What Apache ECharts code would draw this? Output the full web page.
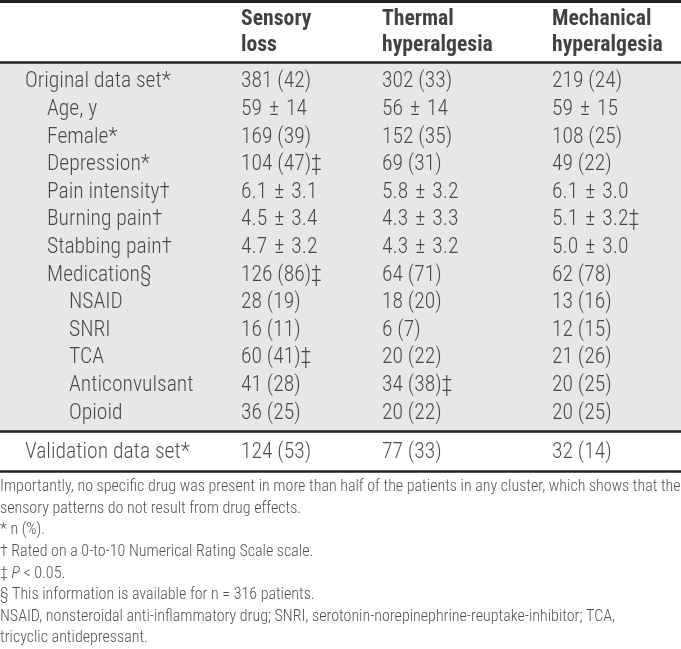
<!DOCTYPE html>
<html>
<head>
<meta charset="utf-8">
<script src="https://cdn.jsdelivr.net/npm/echarts@6/dist/echarts.min.js"></script>
<style>html,body{margin:0;padding:0;background:#fff}#c{width:681px;height:649px}</style>
</head>
<body>
<div id="c"></div>
<script>
// ---------- data ----------
const headerLines = [['Sensory', 'loss'], ['Thermal', 'hyperalgesia'], ['Mechanical', 'hyperalgesia']];
const rowLabels = ['Original data set*', 'Age, y', 'Female*', 'Depression*', 'Pain intensity†', 'Burning pain†',
  'Stabbing pain†', 'Medication§', 'NSAID', 'SNRI', 'TCA', 'Anticonvulsant', 'Opioid'];
const rowLevels = [0, 1, 1, 1, 1, 1, 1, 1, 2, 2, 2, 2, 2];
const sensoryLoss = ['381 (42)', '59 ± 14', '169 (39)', '104 (47)‡', '6.1 ± 3.1', '4.5 ± 3.4', '4.7 ± 3.2',
  '126 (86)‡', '28 (19)', '16 (11)', '60 (41)‡', '41 (28)', '36 (25)'];
const thermalHyperalgesia = ['302 (33)', '56 ± 14', '152 (35)', '69 (31)', '5.8 ± 3.2', '4.3 ± 3.3', '4.3 ± 3.2',
  '64 (71)', '18 (20)', '6 (7)', '20 (22)', '34 (38)‡', '20 (22)'];
const mechanicalHyperalgesia = ['219 (24)', '59 ± 15', '108 (25)', '49 (22)', '6.1 ± 3.0', '5.1 ± 3.2‡', '5.0 ± 3.0',
  '62 (78)', '13 (16)', '12 (15)', '21 (26)', '20 (25)', '20 (25)'];
const validationRow = ['Validation data set*', '124 (53)', '77 (33)', '32 (14)'];
const notes = [
  'Importantly, no specific drug was present in more than half of the patients in any cluster, which shows that the',
  'sensory patterns do not result from drug effects.',
  '* n (%).',
  '† Rated on a 0-to-10 Numerical Rating Scale scale.',
  '‡ {i|P} < 0.05.',
  '§ This information is available for n = 316 patients.',
  'NSAID, nonsteroidal anti-inflammatory drug; SNRI, serotonin-norepinephrine-reuptake-inhibitor; TCA,',
  'tricyclic antidepressant.'
];

// ---------- layout / style ----------
const W = 681;
const colX = [241, 382, 552];
const indentX = [25, 47, 69];
const FONT = "'Roboto Condensed', 'Liberation Sans Narrow', 'Liberation Sans', sans-serif";
const INK = '#231f20';
const GRAY = '#e6e7e8';

// size fonts so that text widths match the reference table
const cv = document.createElement('canvas').getContext('2d');
function meas(txt, weight) { cv.font = weight + ' 20px ' + FONT; return cv.measureText(txt).width; }
const bodySize = Math.round(10 * 20 * (153 / meas('Original data set*', 300) + 67 / meas('381 (42)', 300)) / 2) / 10;
const headSize = Math.round(10 * 20 * 111 / meas('hyperalgesia', 'bold')) / 10;
const noteSize = Math.round(10 * 20 * 679 / meas(notes[0], 300)) / 10;

const valueCols = [sensoryLoss, thermalHyperalgesia, mechanicalHyperalgesia];

function textSeries(name, xAxisIndex, yAxisIndex, data, label) {
  return {
    type: 'scatter', name, xAxisIndex, yAxisIndex, data,
    symbolSize: 0, silent: true,
    itemStyle: { color: 'transparent' },
    label: Object.assign({
      show: true, position: 'inside', align: 'left', verticalAlign: 'middle',
      formatter: p => String(p.value[2]).replace(' ± ', '{pm|±}'),
      fontFamily: FONT, fontWeight: 300, fontSize: bodySize, color: INK,
      rich: { pm: { fontFamily: FONT, fontWeight: 300, fontSize: bodySize, color: INK, padding: [0, 7, 0, 7] } }
    }, label || {})
  };
}

const headerData = headerLines.map((l, i) => [colX[i], 0.5, l.join('\n')]);
const bodyData = [];
rowLabels.forEach((t, r) => bodyData.push([indentX[rowLevels[r]], r, t]));
valueCols.forEach((col, c) => col.forEach((t, r) => bodyData.push([colX[c], r, t])));
const validData = validationRow.map((t, i) => [i === 0 ? indentX[0] : colX[i - 1], 0.5, t]);
const noteData = notes.map((t, i) => [0, i, t]);

const hidden = { axisTick: { show: false }, axisLabel: { show: false }, splitLine: { show: false } };
function xa(gridIndex, position, lineW) {
  return Object.assign({
    type: 'value', gridIndex, min: 0, max: W, position,
    axisLine: { show: lineW > 0, onZero: false, lineStyle: { color: INK, width: lineW } }
  }, hidden);
}
function ya(gridIndex, min, max, inverse) {
  return Object.assign({ type: 'value', gridIndex, min, max, inverse, axisLine: { show: false } }, hidden);
}

const chart = echarts.init(document.getElementById('c'), null, { renderer: 'canvas' });
chart.setOption({
  animation: false,
  grid: [
    { left: 0, right: 0, top: 1.5, height: 60.5 },
    { left: 0, right: 0, top: 62, height: 369, show: true, backgroundColor: GRAY, borderWidth: 0 },
    { left: 0, right: 0, top: 431, height: 40 },
    { left: 0, right: 0, top: 476.5, height: 177 }
  ],
  xAxis: [
    xa(0, 'top', 3),
    xa(1, 'top', 2.5),
    xa(1, 'bottom', 2.5),
    xa(2, 'bottom', 2.5),
    xa(3, 'bottom', 0)
  ],
  yAxis: [
    ya(0, 0.02, 1.02, false),
    ya(1, -0.725, 12.645, true),
    ya(2, 0.05, 1.05, false),
    ya(3, -0.5, 7.5, true)
  ],
  series: [
    textSeries('header', 0, 0, headerData, { fontWeight: 'bold', lineHeight: 26, fontSize: headSize, color: '#111' }),
    textSeries('body', 1, 1, bodyData),
    textSeries('validation', 3, 2, validData),
    textSeries('notes', 4, 3, noteData, {
      fontSize: noteSize,
      formatter: p => p.value[2],
      rich: { i: { fontStyle: 'italic', fontFamily: FONT, fontWeight: 300, fontSize: noteSize, color: INK } }
    })
  ]
});
</script>
</body>
</html>
